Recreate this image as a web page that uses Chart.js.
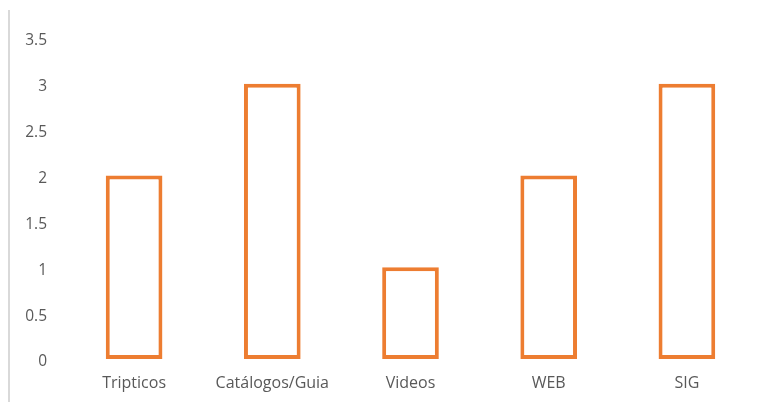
<!DOCTYPE html>
<html>
<head>
<meta charset="utf-8">
<script src="https://cdn.jsdelivr.net/npm/chart.js@4/dist/chart.umd.min.js"></script>
<style>
  html, body { margin: 0; padding: 0; background: #fff; }
  #wrap { position: relative; width: 770px; height: 402px; }
  #edge { position: absolute; left: 8px; top: 10px; width: 2px; height: 392px; background: #d9d9d9; }
  canvas { position: absolute; left: 0; top: 0; }
</style>
</head>
<body>
<div id="wrap">
  <div id="edge"></div>
  <canvas id="chart" width="770" height="402"></canvas>
</div>
<script>
const categories = ['Tripticos', 'Catálogos/Guia', 'Videos', 'WEB', 'SIG'];
const values = [2, 3, 1, 2, 3];
const yMax = 3.5;
const yStep = 0.5;

const ctx = document.getElementById('chart').getContext('2d');
const chart = new Chart(ctx, {
  type: 'bar',
  data: {
    labels: categories,
    datasets: [{
      data: values,
      backgroundColor: '#ffffff',
      borderColor: '#ED7D31',
      borderWidth: 4,
      borderSkipped: false,
      barPercentage: 0.41,
      categoryPercentage: 1
    }]
  },
  options: {
    responsive: false,
    animation: false,
    layout: { padding: { top: 38, right: 14, left: 0, bottom: 0 } },
    plugins: { legend: { display: false }, tooltip: { enabled: false } },
    scales: {
      x: {
        grid: { display: false },
        border: { display: false },
        ticks: { color: '#595959', font: { family: 'Open Sans', size: 16 }, padding: 7, maxRotation: 0 },
        afterFit: function (axis) { axis.height = 43; }
      },
      y: {
        min: 0,
        max: yMax,
        grid: { display: false },
        border: { display: false },
        ticks: {
          stepSize: yStep,
          color: '#595959',
          font: { family: 'Open Sans', size: 15.5 },
          padding: 10,
          labelOffset: 3,
          callback: function (value) { return String(value); }
        },
        afterFit: function (axis) { axis.width = 65; }
      }
    }
  }
});
</script>
</body>
</html>
